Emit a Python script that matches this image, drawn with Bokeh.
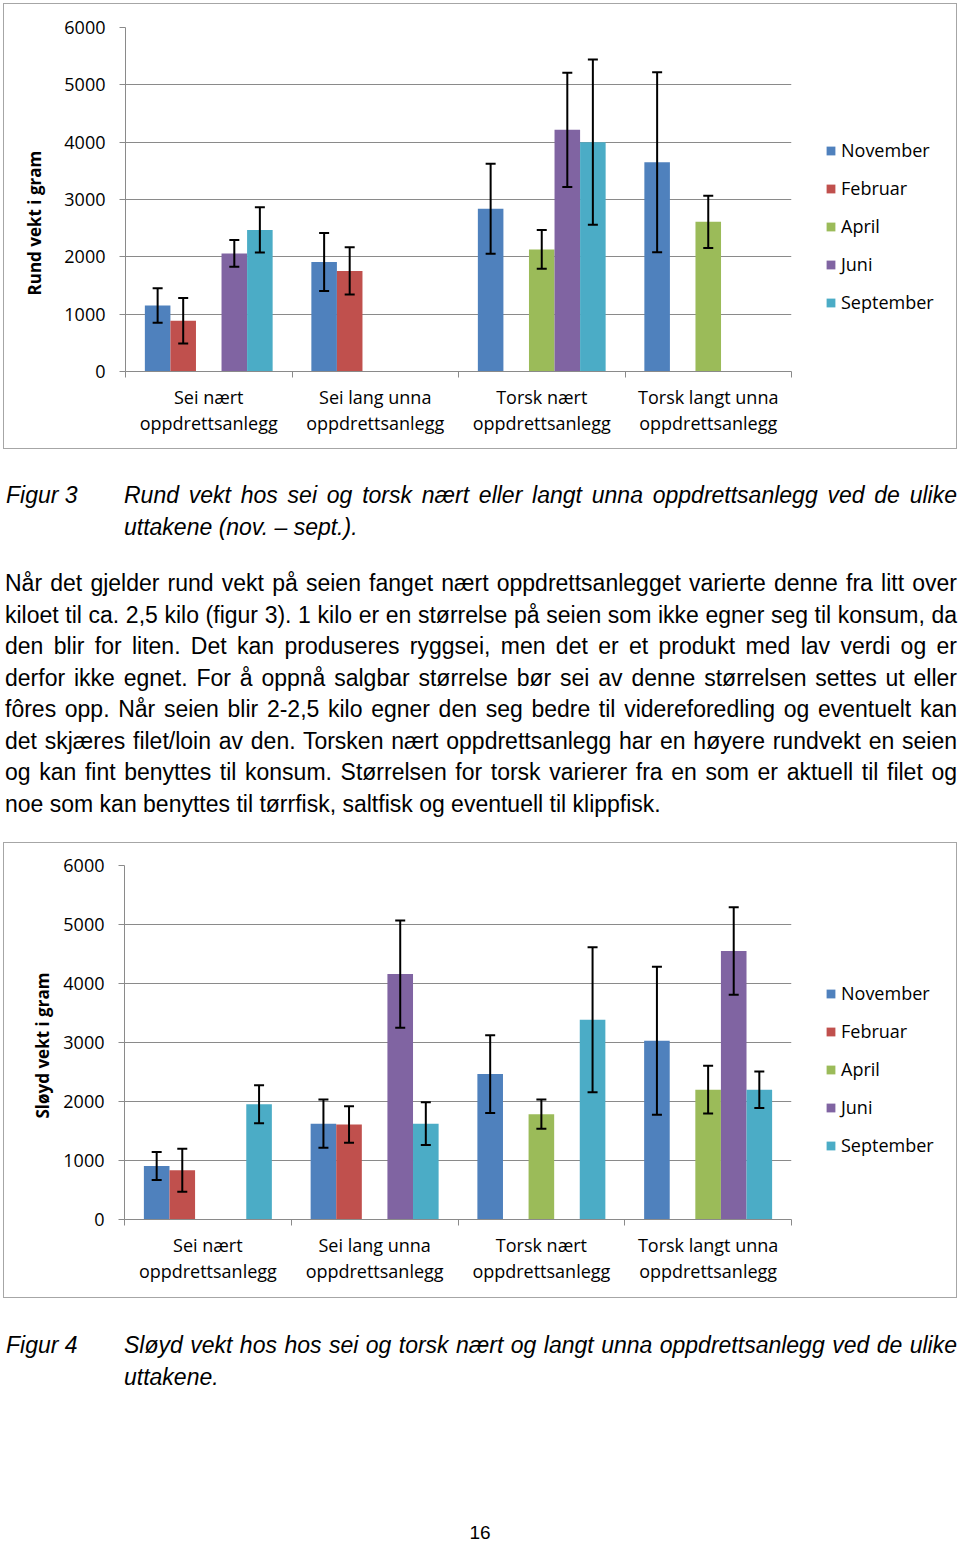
from bokeh.plotting import figure
from bokeh.models import (Range1d, FixedTicker, ColumnDataSource, Whisker, TeeHead,
                          Legend, LegendItem, Title, Div)
from bokeh.layouts import column, row
from bokeh.embed import file_html
from bokeh.resources import INLINE

# ---------------- data ----------------
categories = ["Sei nært\noppdrettsanlegg", "Sei lang unna\noppdrettsanlegg",
              "Torsk nært\noppdrettsanlegg", "Torsk langt unna\noppdrettsanlegg"]
months = ["November", "Februar", "April", "Juni", "September"]
colors = ["#4F81BD", "#C0504D", "#9BBB59", "#8064A2", "#4BACC6"]
y_ticks = [0, 1000, 2000, 3000, 4000, 5000, 6000]

# Figur 3: rund vekt (gram)
rund_nov = [1150, 1910, 2840, 3650]
rund_feb = [885, 1755, None, None]
rund_apr = [None, None, 2130, 2610]
rund_jun = [2060, None, 4215, None]
rund_sep = [2470, None, 4000, None]
rund_nov_err = [300, 505, 785, 1570]
rund_feb_err = [395, 410, None, None]
rund_apr_err = [None, None, 340, 455]
rund_jun_err = [235, None, 995, None]
rund_sep_err = [395, None, 1440, None]

# Figur 4: sløyd vekt (gram)
sloyd_nov = [905, 1625, 2465, 3030]
sloyd_feb = [835, 1610, None, None]
sloyd_apr = [None, None, 1785, 2200]
sloyd_jun = [None, 4160, None, 4550]
sloyd_sep = [1955, 1625, 3385, 2200]
sloyd_nov_err = [237, 410, 660, 1253]
sloyd_feb_err = [364, 308, None, None]
sloyd_apr_err = [None, None, 248, 404]
sloyd_jun_err = [None, 909, None, 742]
sloyd_sep_err = [322, 361, 1230, 310]

caption3 = ["Rund vekt hos sei og torsk nært eller langt unna oppdrettsanlegg ved de ulike",
            "uttakene (nov. – sept.)."]
paragraph = [
    "Når det gjelder rund vekt på seien fanget nært oppdrettsanlegget varierte denne fra litt over",
    "kiloet til ca. 2,5 kilo (figur 3). 1 kilo er en størrelse på seien som ikke egner seg til konsum, da",
    "den blir for liten. Det kan produseres ryggsei, men det er et produkt med lav verdi og er",
    "derfor ikke egnet. For å oppnå salgbar størrelse bør sei av denne størrelsen settes ut eller",
    "fôres opp. Når seien blir 2-2,5 kilo egner den seg bedre til videreforedling og eventuelt kan",
    "det skjæres filet/loin av den. Torsken nært oppdrettsanlegg har en høyere rundvekt en seien",
    "og kan fint benyttes til konsum. Størrelsen for torsk varierer fra en som er aktuell til filet og",
    "noe som kan benyttes til tørrfisk, saltfisk og eventuell til klippfisk.",
]
caption4 = ["Sløyd vekt hos hos sei og torsk nært og langt unna oppdrettsanlegg ved de ulike",
            "uttakene."]

GRID = "#8a8a8a"
FONT = "Open Sans"
BAR_W = 0.1535
MAIN_W = 800
LEG_W = 152


def make_chart(values, errors, ylabel, height, top, bottom, title_offset,
               title_standoff, legend_y):
    p = figure(width=MAIN_W, height=height, output_backend="svg", toolbar_location=None,
               x_range=Range1d(0, 4), y_range=Range1d(0, 6000),
               min_border_left=120, min_border_right=MAIN_W - 120 - 667,
               min_border_top=top, min_border_bottom=bottom)
    p.outline_line_color = None

    # legend panel (separate figure next to the chart)
    pl = figure(width=LEG_W, height=height, output_backend="svg", toolbar_location=None,
                x_range=Range1d(0, 1), y_range=Range1d(0, 1), min_border=0,
                x_axis_location=None, y_axis_location=None)
    pl.outline_line_color = None
    pl.grid.visible = False
    items = []

    for j, (vals, errs) in enumerate(zip(values, errors)):
        xs, tops, ups, los = [], [], [], []
        for i, (v, e) in enumerate(zip(vals, errs)):
            if v is None:
                continue
            x = i + 0.5 + (j - 2) * BAR_W
            xs.append(x)
            tops.append(v)
            ups.append(v + e)
            los.append(v - e)
        src = ColumnDataSource(dict(x=xs, top=tops, upper=ups, lower=los))
        p.vbar(x="x", top="top", bottom=0, width=BAR_W, source=src,
               fill_color=colors[j], line_color=None)
        w = Whisker(base="x", upper="upper", lower="lower", source=src,
                    line_color="black", line_width=2, level="annotation",
                    upper_head=TeeHead(size=10, line_color="black", line_width=2),
                    lower_head=TeeHead(size=10, line_color="black", line_width=2))
        p.add_layout(w)
        # hidden proxy of the same series, only used for the legend swatch
        proxy = pl.vbar(x="x", top="top", bottom=0, width=BAR_W, source=src,
                        fill_color=colors[j], line_color=None, visible=False)
        items.append(LegendItem(label=months[j], renderers=[proxy]))

    # y axis
    p.yaxis.ticker = FixedTicker(ticks=y_ticks)
    p.yaxis.axis_line_color = GRID
    p.yaxis.major_tick_line_color = GRID
    p.yaxis.major_tick_out = 6
    p.yaxis.major_tick_in = 0
    p.yaxis.minor_tick_line_color = None
    p.yaxis.major_label_text_font = FONT
    p.yaxis.major_label_text_font_size = "18px"
    p.yaxis.major_label_text_color = "black"
    p.yaxis.major_label_standoff = 14

    # x axis
    p.xaxis.ticker = FixedTicker(ticks=[0.5, 1.5, 2.5, 3.5], minor_ticks=[0, 1, 2, 3, 4])
    p.xaxis.major_label_overrides = {0.5: categories[0], 1.5: categories[1],
                                     2.5: categories[2], 3.5: categories[3]}
    p.xaxis.axis_line_color = GRID
    p.xaxis.major_tick_line_color = None
    p.xaxis.major_tick_out = 0
    p.xaxis.major_tick_in = 0
    p.xaxis.minor_tick_line_color = GRID
    p.xaxis.minor_tick_out = 6
    p.xaxis.minor_tick_in = 0
    p.xaxis.major_label_text_font = FONT
    p.xaxis.major_label_text_font_size = "18px"
    p.xaxis.major_label_text_color = "black"
    p.xaxis.major_label_text_line_height = 1.1
    p.xaxis.major_label_standoff = 7

    p.xgrid.visible = False
    p.ygrid.grid_line_color = GRID
    p.ygrid.grid_line_width = 1

    t = Title(text=ylabel, align="left", offset=title_offset, standoff=title_standoff,
              text_font=FONT, text_font_style="bold", text_font_size="17px",
              text_color="black")
    p.add_layout(t, "left")

    legend = Legend(items=items, location=(21, legend_y), orientation="vertical",
                    glyph_width=11, glyph_height=11, label_height=22, spacing=14,
                    padding=0, margin=0, border_line_color=None,
                    background_fill_alpha=0, label_text_font=FONT,
                    label_text_font_size="18px", label_text_color="black",
                    label_standoff=5, click_policy="none")
    pl.add_layout(legend, "center")

    r = row(p, pl, spacing=0)
    r.styles = {"border": "1px solid #a6a6a6"}
    return r


c1 = make_chart([rund_nov, rund_feb, rund_apr, rund_jun, rund_sep],
                [rund_nov_err, rund_feb_err, rund_apr_err, rund_jun_err, rund_sep_err],
                "Rund vekt i gram", 444, 23, 77, 76, 32, 57)
c2 = make_chart([sloyd_nov, sloyd_feb, sloyd_apr, sloyd_jun, sloyd_sep],
                [sloyd_nov_err, sloyd_feb_err, sloyd_apr_err, sloyd_jun_err, sloyd_sep_err],
                "Sløyd vekt i gram", 454, 22, 78, 101, 13, 62)

BASE = "font-family:'Liberation Sans',Arial,sans-serif;font-size:23px;color:#000;"
JUST = "text-align:justify;text-align-last:justify;"


def caption_html(label, lines, top):
    inner = "".join(
        f'<div style="{JUST if k < len(lines) - 1 else ""}">{ln}</div>'
        for k, ln in enumerate(lines))
    return (f'<div style="position:absolute;top:{top}px;left:3px;font-style:italic;'
            f'line-height:32px;">{label}</div>'
            f'<div style="position:absolute;top:{top}px;left:121px;width:833px;'
            f'font-style:italic;line-height:32px;">{inner}</div>')


para_inner = "".join(
    f'<div style="{JUST if k < len(paragraph) - 1 else ""}">{ln}</div>'
    for k, ln in enumerate(paragraph))

html1 = (f'<div style="position:relative;width:954px;height:393px;{BASE}">'
         + caption_html("Figur 3", caption3, 30)
         + f'<div style="position:absolute;top:119px;left:2px;width:952px;'
           f'line-height:31.57px;">{para_inner}</div></div>')
html2 = (f'<div style="position:relative;width:954px;height:235px;{BASE}">'
         + caption_html("Figur 4", caption4, 31)
         + '<div style="position:absolute;top:234px;left:0;width:954px;text-align:center;'
           'font-size:19px;line-height:2px;">16</div></div>')

d1 = Div(text=html1, width=954, height=393, margin=0)
d2 = Div(text=html2, width=954, height=235, margin=0)

layout = column(c1, d1, c2, d2, spacing=0)
layout.styles = {"margin-left": "3px", "margin-top": "3px"}

open("out.html", "w").write(file_html(layout, INLINE))
